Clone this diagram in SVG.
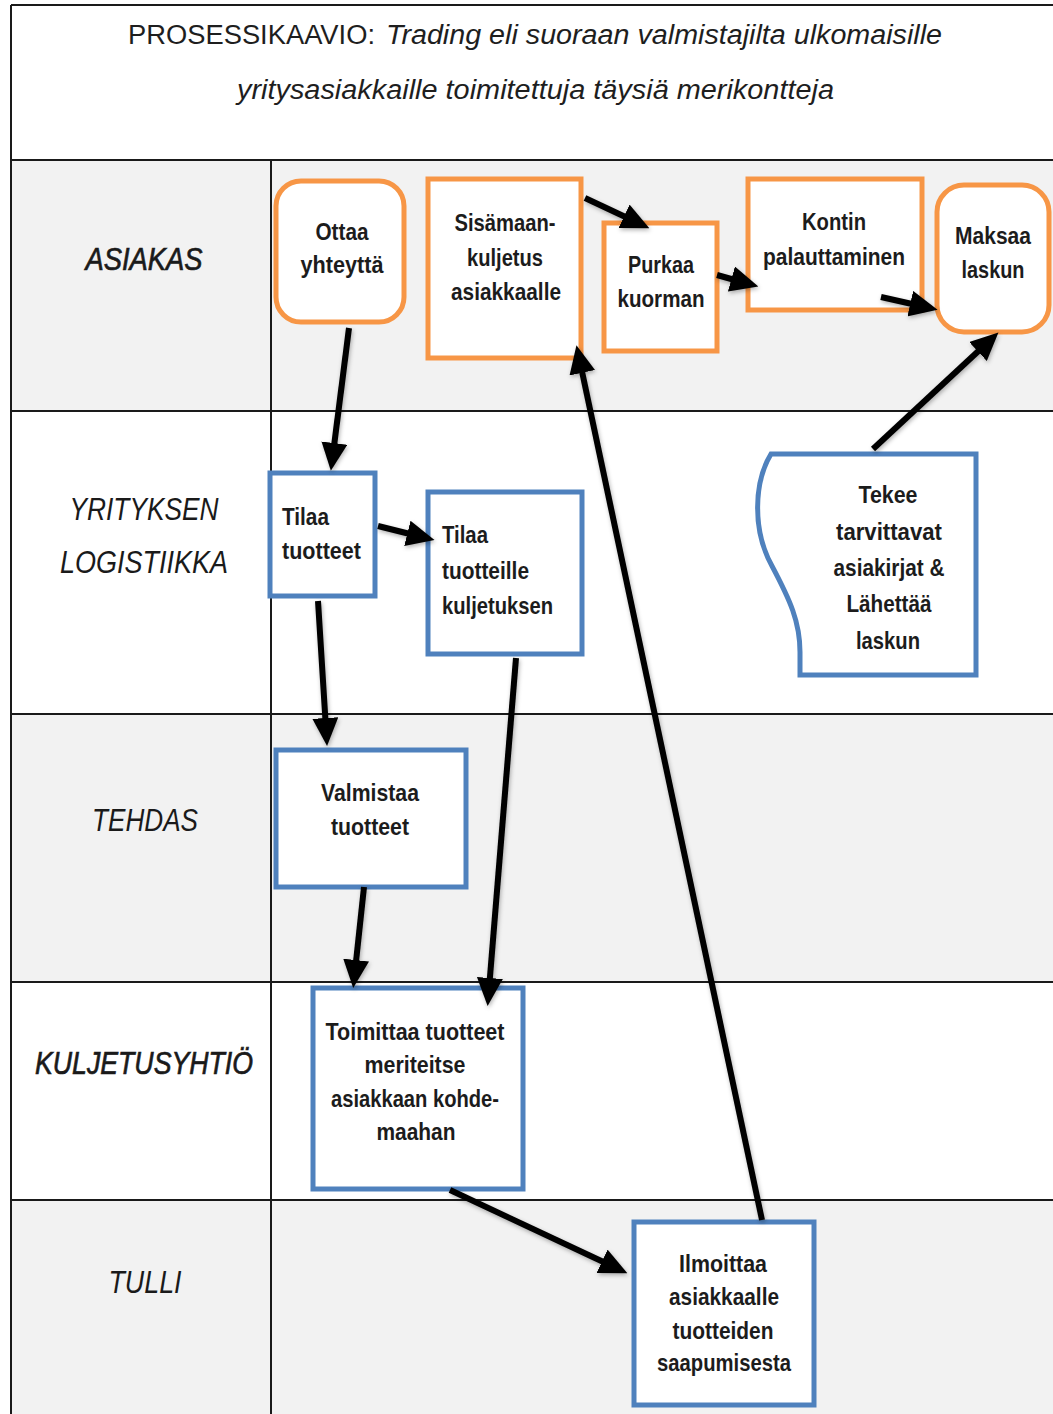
<svg xmlns="http://www.w3.org/2000/svg" width="1053" height="1414" viewBox="0 0 1053 1414">
  <defs>
    <style>
      .lane-gray { fill: #f2f2f2; }
      .lane-white { fill: #ffffff; }
      .grid { stroke: #1a1a1a; stroke-width: 2; fill: none; }
      .title { font-family: "Liberation Sans Narrow", "Liberation Sans", Arial, sans-serif; font-size: 27px; fill: #1e1e1e; }
      .title-i { font-style: italic; }
      .lane { font-family: "Liberation Sans", Arial, sans-serif; font-style: italic; font-size: 32px; fill: #1a1a1a; text-anchor: middle; }
      .lane-strong { stroke: #1a1a1a; stroke-width: 0.7; }
      .box-o { fill: #ffffff; stroke: #f79646; stroke-width: 5; }
      .box-b { fill: #ffffff; stroke: #4f81bd; stroke-width: 5; }
      .t { font-family: "Liberation Sans Narrow", "Liberation Sans", Arial, sans-serif; font-size: 24px; font-weight: bold; fill: #1c1c1c; }
      .c { text-anchor: middle; }
      .conn { stroke: #000000; stroke-width: 6; fill: none; marker-end: url(#arrow); }
    </style>
    <marker id="arrow" markerUnits="userSpaceOnUse" markerWidth="28" markerHeight="26" viewBox="0 0 28 26" refX="11" refY="13" orient="auto">
      <path d="M0,0 L28,13 L0,26 Z" fill="#000000"/>
    </marker>
    <filter id="soft" x="-20%" y="-20%" width="140%" height="140%">
      <feDropShadow dx="1" dy="2" stdDeviation="2" flood-color="#000000" flood-opacity="0.3"/>
    </filter>
  </defs>

  <!-- lane backgrounds and grid -->
  <g id="lanes">
    <rect x="0" y="0" width="1053" height="1414" fill="#ffffff"/>
    <rect class="lane-gray" x="11" y="160" width="1042" height="251"/>
    <rect class="lane-white" x="11" y="411" width="1042" height="303"/>
    <rect class="lane-gray" x="11" y="714" width="1042" height="268"/>
    <rect class="lane-white" x="11" y="982" width="1042" height="218"/>
    <rect class="lane-gray" x="11" y="1200" width="1042" height="214"/>
    <path class="grid" d="M11,5 H1053 M11,5 V1414 M271,160 V1414 M11,160 H1053 M11,411 H1053 M11,714 H1053 M11,982 H1053 M11,1200 H1053"/>
  </g>

  <!-- title -->
  <g id="title">
    <text class="title" x="128" y="44" textLength="247" lengthAdjust="spacingAndGlyphs">PROSESSIKAAVIO:</text>
    <text class="title title-i" x="386" y="44" textLength="556" lengthAdjust="spacingAndGlyphs">Trading eli suoraan valmistajilta ulkomaisille</text>
    <text class="title title-i" x="237" y="99" textLength="597" lengthAdjust="spacingAndGlyphs">yritysasiakkaille toimitettuja täysiä merikontteja</text>
  </g>

  <!-- lane labels -->
  <g id="lane-labels">
    <text class="lane lane-strong" x="144" y="270" textLength="117" lengthAdjust="spacingAndGlyphs">ASIAKAS</text>
    <text class="lane" x="144" y="520" textLength="149" lengthAdjust="spacingAndGlyphs">YRITYKSEN</text>
    <text class="lane" x="144" y="573" textLength="168" lengthAdjust="spacingAndGlyphs">LOGISTIIKKA</text>
    <text class="lane" x="145" y="831" textLength="106" lengthAdjust="spacingAndGlyphs">TEHDAS</text>
    <text class="lane lane-strong" x="144" y="1074" textLength="218" lengthAdjust="spacingAndGlyphs">KULJETUSYHTIÖ</text>
    <text class="lane" x="145" y="1293" textLength="73" lengthAdjust="spacingAndGlyphs">TULLI</text>
  </g>

  <!-- ASIAKAS lane -->
  <g id="ottaa-yhteytta">
    <rect class="box-o" x="276" y="181" width="128" height="141" rx="25"/>
    <text class="t c" x="342" y="240" textLength="53" lengthAdjust="spacingAndGlyphs">Ottaa</text>
    <text class="t c" x="342" y="273" textLength="83" lengthAdjust="spacingAndGlyphs">yhteyttä</text>
  </g>
  <g id="sisamaan-kuljetus">
    <rect class="box-o" x="428" y="179" width="153" height="179"/>
    <text class="t c" x="505" y="231" textLength="101" lengthAdjust="spacingAndGlyphs">Sisämaan-</text>
    <text class="t c" x="505" y="266" textLength="76" lengthAdjust="spacingAndGlyphs">kuljetus</text>
    <text class="t c" x="506" y="300" textLength="110" lengthAdjust="spacingAndGlyphs">asiakkaalle</text>
  </g>
  <g id="purkaa-kuorman">
    <rect class="box-o" x="604" y="223" width="113" height="128"/>
    <text class="t c" x="661" y="273" textLength="66" lengthAdjust="spacingAndGlyphs">Purkaa</text>
    <text class="t c" x="661" y="307" textLength="87" lengthAdjust="spacingAndGlyphs">kuorman</text>
  </g>
  <g id="kontin-palauttaminen">
    <rect class="box-o" x="748" y="179" width="174" height="131"/>
    <text class="t c" x="834" y="230" textLength="64" lengthAdjust="spacingAndGlyphs">Kontin</text>
    <text class="t c" x="834" y="265" textLength="142" lengthAdjust="spacingAndGlyphs">palauttaminen</text>
  </g>
  <g id="maksaa-laskun">
    <rect class="box-o" x="937" y="185" width="112" height="147" rx="27"/>
    <text class="t c" x="993" y="244" textLength="76" lengthAdjust="spacingAndGlyphs">Maksaa</text>
    <text class="t c" x="993" y="278" textLength="63" lengthAdjust="spacingAndGlyphs">laskun</text>
  </g>

  <!-- YRITYKSEN LOGISTIIKKA lane -->
  <g id="tilaa-tuotteet">
    <rect class="box-b" x="270" y="473" width="105" height="123"/>
    <text class="t" x="282" y="525" textLength="47" lengthAdjust="spacingAndGlyphs">Tilaa</text>
    <text class="t" x="282" y="559" textLength="79" lengthAdjust="spacingAndGlyphs">tuotteet</text>
  </g>
  <g id="tilaa-kuljetuksen">
    <rect class="box-b" x="428" y="492" width="154" height="162"/>
    <text class="t" x="442" y="543" textLength="46" lengthAdjust="spacingAndGlyphs">Tilaa</text>
    <text class="t" x="442" y="579" textLength="87" lengthAdjust="spacingAndGlyphs">tuotteille</text>
    <text class="t" x="442" y="614" textLength="111" lengthAdjust="spacingAndGlyphs">kuljetuksen</text>
  </g>
  <g id="tekee-asiakirjat">
    <path class="box-b" d="M771,454 C754,482 752,530 772,566 C790,600 800,622 800,652 L800,675 L976,675 L976,454 Z"/>
    <text class="t c" x="888" y="503" textLength="59" lengthAdjust="spacingAndGlyphs">Tekee</text>
    <text class="t c" x="889" y="540" textLength="106" lengthAdjust="spacingAndGlyphs">tarvittavat</text>
    <text class="t c" x="889" y="576" textLength="111" lengthAdjust="spacingAndGlyphs">asiakirjat &amp;</text>
    <text class="t c" x="889" y="612" textLength="85" lengthAdjust="spacingAndGlyphs">Lähettää</text>
    <text class="t c" x="888" y="649" textLength="64" lengthAdjust="spacingAndGlyphs">laskun</text>
  </g>

  <!-- TEHDAS lane -->
  <g id="valmistaa-tuotteet">
    <rect class="box-b" x="276" y="750" width="190" height="137"/>
    <text class="t c" x="370" y="801" textLength="98" lengthAdjust="spacingAndGlyphs">Valmistaa</text>
    <text class="t c" x="370" y="835" textLength="78" lengthAdjust="spacingAndGlyphs">tuotteet</text>
  </g>

  <!-- KULJETUSYHTIÖ lane -->
  <g id="toimittaa-tuotteet">
    <rect class="box-b" x="313" y="988" width="210" height="201"/>
    <text class="t c" x="415" y="1040" textLength="179" lengthAdjust="spacingAndGlyphs">Toimittaa tuotteet</text>
    <text class="t c" x="415" y="1073" textLength="101" lengthAdjust="spacingAndGlyphs">meriteitse</text>
    <text class="t c" x="415" y="1107" textLength="168" lengthAdjust="spacingAndGlyphs">asiakkaan kohde-</text>
    <text class="t c" x="416" y="1140" textLength="79" lengthAdjust="spacingAndGlyphs">maahan</text>
  </g>

  <!-- TULLI lane -->
  <g id="ilmoittaa-asiakkaalle">
    <rect class="box-b" x="634" y="1222" width="180" height="183"/>
    <text class="t c" x="723" y="1272" textLength="88" lengthAdjust="spacingAndGlyphs">Ilmoittaa</text>
    <text class="t c" x="724" y="1305" textLength="110" lengthAdjust="spacingAndGlyphs">asiakkaalle</text>
    <text class="t c" x="723" y="1339" textLength="101" lengthAdjust="spacingAndGlyphs">tuotteiden</text>
    <text class="t c" x="724" y="1371" textLength="134" lengthAdjust="spacingAndGlyphs">saapumisesta</text>
  </g>

  <!-- connectors, drawn above the boxes -->
  <g id="connectors" filter="url(#soft)">
    <line class="conn" x1="349" y1="328" x2="333" y2="454"/>
    <line class="conn" x1="378" y1="526" x2="418" y2="536"/>
    <line class="conn" x1="318" y1="601" x2="326" y2="729"/>
    <line class="conn" x1="364" y1="887" x2="355" y2="971"/>
    <line class="conn" x1="516" y1="658" x2="489" y2="989"/>
    <line class="conn" x1="450" y1="1190" x2="612" y2="1266"/>
    <line class="conn" x1="762" y1="1220" x2="580" y2="362"/>
    <line class="conn" x1="585" y1="198" x2="634" y2="221"/>
    <line class="conn" x1="717" y1="275" x2="742" y2="282"/>
    <line class="conn" x1="881" y1="297" x2="921" y2="306"/>
    <line class="conn" x1="873" y1="449" x2="986" y2="344"/>
  </g>
</svg>
